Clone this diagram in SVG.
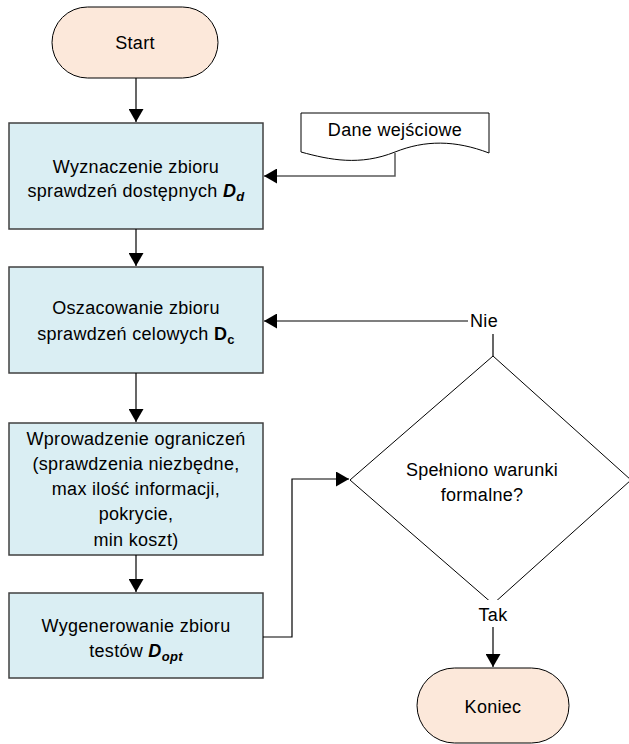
<svg xmlns="http://www.w3.org/2000/svg" width="629" height="744" viewBox="0 0 629 744">
<style>
text{font-family:"Liberation Sans",Arial,sans-serif;font-size:18px;fill:#000;text-anchor:middle;letter-spacing:0.3px}
.term{fill:#fce8da;stroke:#000;stroke-width:1}
.proc{fill:#daeef3;stroke:#404040;stroke-width:1.5}
.line{fill:none;stroke:#000;stroke-width:1.2}
.gline{fill:none;stroke:#595959;stroke-width:1.5}
.dia{fill:#fff;stroke:#000;stroke-width:1}
.b{font-weight:bold}
.bi{font-weight:bold;font-style:italic}
.sub{font-size:13px}
</style>
<defs>
<marker id="ah" markerUnits="userSpaceOnUse" markerWidth="14" markerHeight="15" refX="13" refY="7.5" orient="auto">
<path d="M0,0 L13,7.5 L0,15 Z" fill="#000"/>
</marker>
</defs>
<g id="start">
<rect class="term" x="52" y="7" width="166" height="71" rx="35.5" ry="35.5"/>
<text x="135" y="49">Start</text>
</g>
<g id="dane">
<path d="M301,113 H489 V153 C455,140 425,140 395,152 C360,166 330,160 301,152 Z" fill="#fff" stroke="#000" stroke-width="1"/>
<text x="395" y="136">Dane wejściowe</text>
</g>
<g id="box1">
<rect class="proc" x="9" y="123" width="254" height="106"/>
<text x="136" y="173">Wyznaczenie zbioru</text>
<text x="136" y="197">sprawdzeń dostępnych <tspan class="bi">D</tspan><tspan class="bi sub" dy="4">d</tspan></text>
</g>
<g id="box2">
<rect class="proc" x="9" y="267" width="254" height="106"/>
<text x="136" y="314">Oszacowanie zbioru</text>
<text x="136" y="340">sprawdzeń celowych <tspan class="b">D</tspan><tspan class="b sub" dy="4">c</tspan></text>
</g>
<g id="box3">
<rect class="proc" x="9" y="423" width="254" height="132"/>
<text x="136" y="445">Wprowadzenie ograniczeń</text>
<text x="136" y="470">(sprawdzenia niezbędne,</text>
<text x="136" y="495">max ilość informacji,</text>
<text x="136" y="520">pokrycie,</text>
<text x="136" y="546">min koszt)</text>
</g>
<g id="box4">
<rect class="proc" x="9" y="593" width="254" height="85"/>
<text x="136" y="632">Wygenerowanie zbioru</text>
<text x="136" y="657">testów <tspan class="bi">D</tspan><tspan class="bi sub" dy="4">opt</tspan></text>
</g>
<g id="decision">
<polygon class="dia" points="493,356 631,480 493,604 350,480"/>
<text x="482" y="476">Spełniono warunki</text>
<text x="482" y="501">formalne?</text>
</g>
<g id="koniec">
<rect class="term" x="417" y="668" width="152" height="75" rx="37.5" ry="37.5"/>
<text x="493" y="713">Koniec</text>
</g>
<g id="connectors">
<path class="line" d="M136,78 V122" marker-end="url(#ah)"/>
<path class="line" d="M136,229 V266" marker-end="url(#ah)"/>
<path class="line" d="M136,373 V422" marker-end="url(#ah)"/>
<path class="line" d="M136,555 V592" marker-end="url(#ah)"/>
<path class="gline" d="M395,153 V176 H264" marker-end="url(#ah)"/>
<path class="line" d="M263,637 H292 V479 H349" marker-end="url(#ah)"/>
<path class="line" d="M493,356 V334"/>
<path class="line" d="M468,321 H264" marker-end="url(#ah)"/>
<rect x="476" y="600" width="34" height="27" fill="#fff"/>
<text x="493" y="621">Tak</text>
<text x="484" y="327">Nie</text>
<path class="line" d="M493,627 V667" marker-end="url(#ah)"/>
</g>
</svg>
